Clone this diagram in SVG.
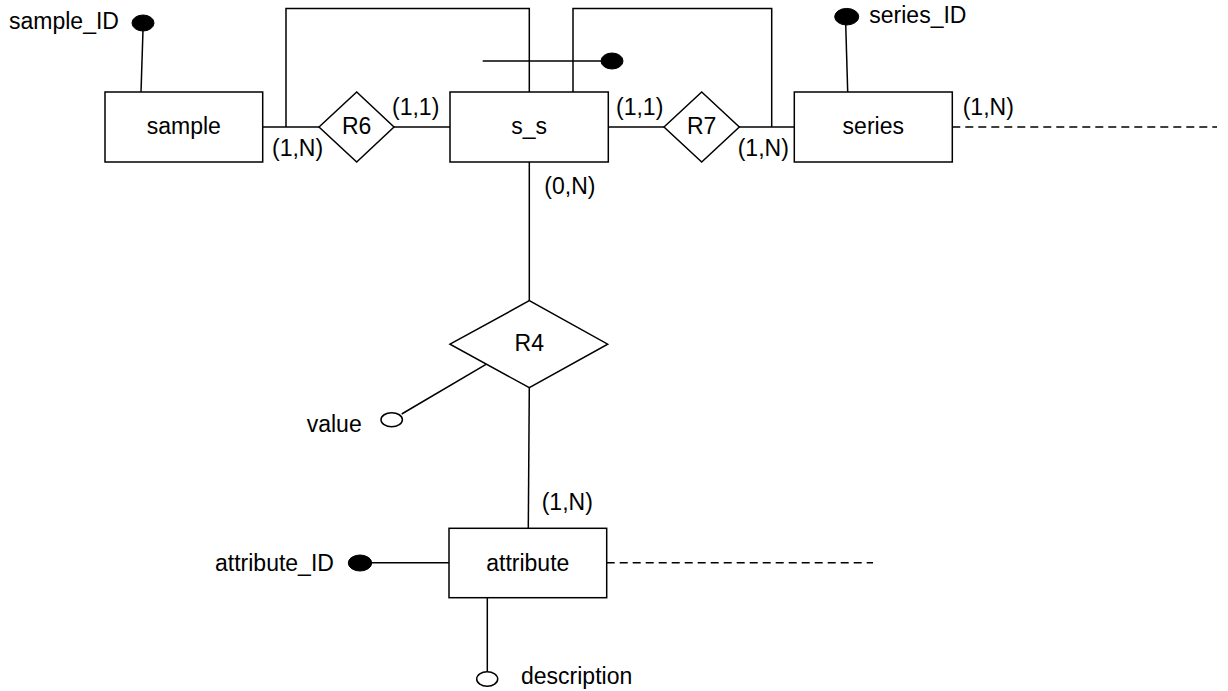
<svg xmlns="http://www.w3.org/2000/svg" width="1228" height="691" viewBox="0 0 1228 691">
<style>
  .box { fill: #ffffff; stroke: #000000; stroke-width: 1.5; }
  .ln { fill: none; stroke: #000000; stroke-width: 1.5; }
  .dash { fill: none; stroke: #000000; stroke-width: 1.5; stroke-dasharray: 8 5; }
  .key { fill: #000000; stroke: #000000; stroke-width: 1; }
  .attr { fill: #ffffff; stroke: #000000; stroke-width: 1.5; }
  text { font-family: "Liberation Sans", Arial, Helvetica, sans-serif; font-size: 23px; fill: #000000; }
  .mid { text-anchor: middle; }
</style>
<rect x="0" y="0" width="1228" height="691" fill="#ffffff"/>

<g id="connectors">
  <!-- sample - R6 - s_s -->
  <line class="ln" x1="263" y1="127" x2="319" y2="127"/>
  <line class="ln" x1="394" y1="127" x2="450" y2="127"/>
  <!-- s_s - R7 - series -->
  <line class="ln" x1="608" y1="127" x2="664" y2="127"/>
  <line class="ln" x1="739" y1="127" x2="795" y2="127"/>
  <!-- composite identifier loops -->
  <polyline class="ln" points="286,127 286,8.5 529.3,8.5 529.3,92"/>
  <polyline class="ln" points="573,92 573,8.5 771.7,8.5 771.7,127"/>
  <!-- s_s - R4 - attribute -->
  <line class="ln" x1="529.3" y1="162" x2="529.3" y2="300.7"/>
  <line class="ln" x1="529.3" y1="387.7" x2="528.3" y2="528.3"/>
  <!-- dashed continuations -->
  <line class="dash" x1="952.3" y1="127" x2="1217" y2="127"/>
  <line class="dash" x1="606.7" y1="562.7" x2="873" y2="562.7"/>
</g>

<g id="sample">
  <rect class="box" x="105" y="92" width="157.7" height="70"/>
  <text class="mid" x="183.8" y="133.5">sample</text>
</g>

<g id="s_s">
  <rect class="box" x="450" y="92" width="158.3" height="70"/>
  <text class="mid" x="529.2" y="133.5">s_s</text>
</g>

<g id="series">
  <rect class="box" x="794.3" y="92" width="158" height="70"/>
  <text class="mid" x="873.3" y="133.5">series</text>
</g>

<g id="attribute">
  <rect class="box" x="449" y="528.3" width="157.7" height="69.4"/>
  <text class="mid" x="527.8" y="570.5">attribute</text>
</g>

<g id="R6">
  <polygon class="box" points="319,127 356.7,92 394,127 356.7,162"/>
  <text class="mid" x="356.7" y="133.5">R6</text>
  <text x="392" y="115">(1,1)</text>
  <text x="272" y="156">(1,N)</text>
</g>

<g id="R7">
  <polygon class="box" points="664,127 701.7,92 739.3,127 701.7,162"/>
  <text class="mid" x="701.7" y="133.5">R7</text>
  <text x="616" y="115">(1,1)</text>
  <text x="737.7" y="156">(1,N)</text>
  <text x="962.7" y="115">(1,N)</text>
</g>

<g id="R4">
  <polygon class="box" points="450,344.2 529.3,300.7 607.7,344.2 529.3,387.7"/>
  <text class="mid" x="529.3" y="350.5">R4</text>
  <text x="544.3" y="194">(0,N)</text>
  <text x="541.7" y="510">(1,N)</text>
</g>

<g id="sample_ID">
  <line class="ln" x1="143" y1="30" x2="141" y2="92"/>
  <ellipse class="key" cx="143" cy="23" rx="11" ry="8"/>
  <text x="9" y="29.3">sample_ID</text>
</g>

<g id="s_s_ID">
  <line class="ln" x1="482.7" y1="61" x2="601" y2="61"/>
  <ellipse class="key" cx="612" cy="61" rx="11" ry="8"/>
</g>

<g id="series_ID">
  <line class="ln" x1="845.7" y1="24" x2="847.7" y2="92"/>
  <ellipse class="key" cx="846.7" cy="16.7" rx="12" ry="8.3"/>
  <text x="869.3" y="22.7">series_ID</text>
</g>

<g id="value">
  <line class="ln" x1="486" y1="364.3" x2="401.7" y2="414"/>
  <ellipse class="attr" cx="391.7" cy="419.7" rx="10.7" ry="7"/>
  <text x="306.7" y="431.7">value</text>
</g>

<g id="attribute_ID">
  <line class="ln" x1="371" y1="562.7" x2="449" y2="562.7"/>
  <ellipse class="key" cx="360" cy="563" rx="11.7" ry="8"/>
  <text x="215" y="570.5">attribute_ID</text>
</g>

<g id="description">
  <line class="ln" x1="487.3" y1="597.7" x2="487.3" y2="671.7"/>
  <ellipse class="attr" cx="487.2" cy="679" rx="10.5" ry="7.3"/>
  <text x="521" y="684.3">description</text>
</g>
</svg>
